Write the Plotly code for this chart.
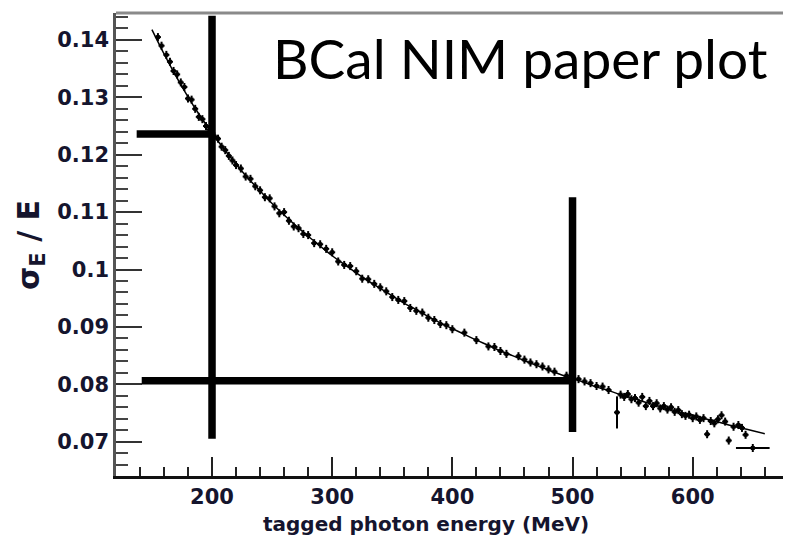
import plotly.graph_objects as go

# ---- data ----
energy = [155, 158, 162, 165, 168, 171, 174, 177, 180, 183, 186, 189, 192, 195, 198,
          202, 205, 208, 211, 214, 217, 220, 224, 228, 232, 236, 240, 244, 248, 252,
          256, 260, 264, 268, 272, 276, 280, 285, 290, 295, 300, 305, 310, 315, 320,
          325, 330, 335, 340, 345, 350, 355, 360, 365, 370, 375, 380, 385, 390, 395,
          400, 410, 420, 430, 435, 440, 445, 455, 460, 465, 470, 475, 480, 485, 495,
          505, 510, 515, 520, 525, 530, 537, 540, 543, 546, 549, 552, 555, 558, 561,
          564, 567, 570, 573, 576, 579, 582, 585, 588, 591, 594, 597, 600, 603, 606,
          609, 612, 615, 618, 621, 624, 627, 630, 634, 638, 641, 644, 650]
resolution = [0.1405, 0.1390, 0.1374, 0.1362, 0.1346, 0.1340, 0.1326, 0.1318, 0.1298, 0.1296,
              0.1280, 0.1266, 0.1262, 0.1250, 0.1244, 0.1232, 0.1228, 0.1214, 0.1208, 0.1198,
              0.1190, 0.1182, 0.1176, 0.1162, 0.1158, 0.1145, 0.1138, 0.1126, 0.1124, 0.1110,
              0.1098, 0.1100, 0.1085, 0.1075, 0.1072, 0.1062, 0.1060, 0.1046, 0.1044, 0.1036,
              0.1030, 0.1014, 0.1008, 0.1006, 0.0997, 0.0984, 0.0983, 0.0975, 0.0969, 0.0962,
              0.0952, 0.0947, 0.0945, 0.0933, 0.0928, 0.0925, 0.0916, 0.0912, 0.0905, 0.0903,
              0.0896, 0.0890, 0.0877, 0.0866, 0.0865, 0.0858, 0.0853, 0.0849, 0.0843, 0.0838,
              0.0835, 0.0831, 0.0826, 0.0822, 0.0815, 0.0809, 0.0805, 0.0802, 0.0797, 0.0796,
              0.0790, 0.0751, 0.0782, 0.0778, 0.0783, 0.0774, 0.0776, 0.0768, 0.0778, 0.0762,
              0.0771, 0.0762, 0.0767, 0.0758, 0.0762, 0.0756, 0.0760, 0.0752, 0.0755, 0.0748,
              0.0745, 0.0747, 0.0741, 0.0744, 0.0738, 0.0741, 0.0713, 0.0736, 0.0732, 0.0739,
              0.0746, 0.0735, 0.0702, 0.0726, 0.0729, 0.0724, 0.0712, 0.0689]
res_err = [0.0007] * len(energy)
res_err[energy.index(537)] = 0.0028
energy_err = [2.5] * len(energy)
energy_err[-1] = 14

fit_energy = [150, 160, 170, 180, 190, 200, 210, 220, 230, 240, 250, 260, 270, 280, 290,
              300, 310, 320, 330, 340, 350, 360, 370, 380, 390, 400, 410, 420, 430, 440,
              450, 460, 470, 480, 490, 500, 510, 520, 530, 540, 550, 560, 570, 580, 590,
              600, 610, 620, 630, 640, 650, 660]
fit_res = [0.1418, 0.1376, 0.1337, 0.1301, 0.1268, 0.1238, 0.1210, 0.1184, 0.1159, 0.1137,
           0.1115, 0.1095, 0.1076, 0.1058, 0.1041, 0.1024, 0.1009, 0.0994, 0.0980, 0.0967,
           0.0954, 0.0941, 0.0930, 0.0918, 0.0907, 0.0897, 0.0887, 0.0877, 0.0868, 0.0858,
           0.0850, 0.0841, 0.0833, 0.0825, 0.0817, 0.0810, 0.0803, 0.0795, 0.0789, 0.0782,
           0.0776, 0.0769, 0.0763, 0.0757, 0.0751, 0.0746, 0.0740, 0.0735, 0.0729, 0.0724,
           0.0719, 0.0714]

# guide segments drawn over the plot: (x0, y0, x1, y1) in data units
guide_segments = [
    (200, 0.1442, 200, 0.0705),
    (137.3, 0.1236, 200, 0.1236),
    (141.5, 0.0806, 500, 0.0806),
    (500, 0.1126, 500, 0.0717),
]

x_ticks = [200, 300, 400, 500, 600]
y_ticks = [0.07, 0.08, 0.09, 0.10, 0.11, 0.12, 0.13, 0.14]
y_tick_text = ["0.07", "0.08", "0.09", "0.1", "0.11", "0.12", "0.13", "0.14"]

# page body has an 8 px margin; size the figure so it fills the window
OFF = 8
W, H = 791 - OFF, 539 - OFF
ML, MR, MT, MB = 116 - OFF, 0, 13 - OFF, 63
PW, PH = W - ML - MR, H - MT - MB

label_col = "#15152e"
tick_font = dict(family="DejaVu Sans", size=21, color=label_col, weight="bold")

fig = go.Figure()
fig.add_trace(go.Scatter(
    x=fit_energy, y=fit_res, mode="lines", line=dict(color="black", width=1.5),
    line_shape="spline", hoverinfo="skip", showlegend=False))
fig.add_trace(go.Scatter(
    x=energy, y=resolution, mode="markers",
    marker=dict(color="black", size=4, symbol="square"),
    error_y=dict(type="data", array=res_err, color="black", thickness=2, width=0),
    error_x=dict(type="data", array=energy_err, color="black", thickness=2, width=0),
    showlegend=False))

for x0, y0, x1, y1 in guide_segments:
    fig.add_shape(type="line", xref="x", yref="y", x0=x0, y0=y0, x1=x1, y1=y1,
                  line=dict(color="black", width=7.5))

# top frame line
fig.add_shape(type="line", xref="paper", yref="paper", x0=0, x1=1, y0=1, y1=1,
              line=dict(color="#8a8a8a", width=3))

fig.update_xaxes(range=[120.1, 681.8], tickvals=x_ticks, ticks="inside", ticklen=19,
                 tickwidth=1.5, tickcolor="#222", showline=True, linecolor="#111",
                 linewidth=2.5, showgrid=False, zeroline=False, tickfont=tick_font,
                 minor=dict(dtick=20, tick0=0, ticks="inside", ticklen=9, tickwidth=1.5,
                            tickcolor="#222", showgrid=False))
fig.update_yaxes(range=[0.06402, 0.1447], tickvals=y_ticks, ticktext=y_tick_text,
                 ticks="inside", ticklen=26, tickwidth=1.8, tickcolor="#333",
                 showline=True, linecolor="#555", linewidth=2.5, showgrid=False,
                 zeroline=False, tickfont=tick_font,
                 minor=dict(dtick=0.002, tick0=0, ticks="inside", ticklen=12, tickwidth=1.8,
                            tickcolor="#444", showgrid=False))

def px(xs):
    # screen x pixel -> paper x
    return (xs - OFF - ML) / PW

def py(ys):
    # screen y pixel -> paper y
    return (H - MB - (ys - OFF)) / PH

fig.add_annotation(text="tagged photon energy (MeV)", xref="paper", yref="paper",
                   x=px(426), y=py(524), xanchor="center", yanchor="middle", showarrow=False,
                   font=dict(family="DejaVu Sans", size=20, color=label_col, weight="bold"))
fig.add_annotation(text="σ<sub>E</sub> / E", xref="paper", yref="paper",
                   x=px(30), y=py(245), xanchor="center", yanchor="middle", showarrow=False,
                   textangle=-90,
                   font=dict(family="DejaVu Sans", size=30, color=label_col, weight="bold"))
fig.add_annotation(text="BCal NIM paper plot", xref="paper", yref="paper",
                   x=px(271), y=py(58), xanchor="left", yanchor="middle", showarrow=False,
                   font=dict(family="Lato", size=55, color="black"))

fig.update_layout(width=W, height=H, margin=dict(l=ML, r=MR, t=MT, b=MB, autoexpand=False),
                  paper_bgcolor="white", plot_bgcolor="white")

fig.write_html("out.html")
